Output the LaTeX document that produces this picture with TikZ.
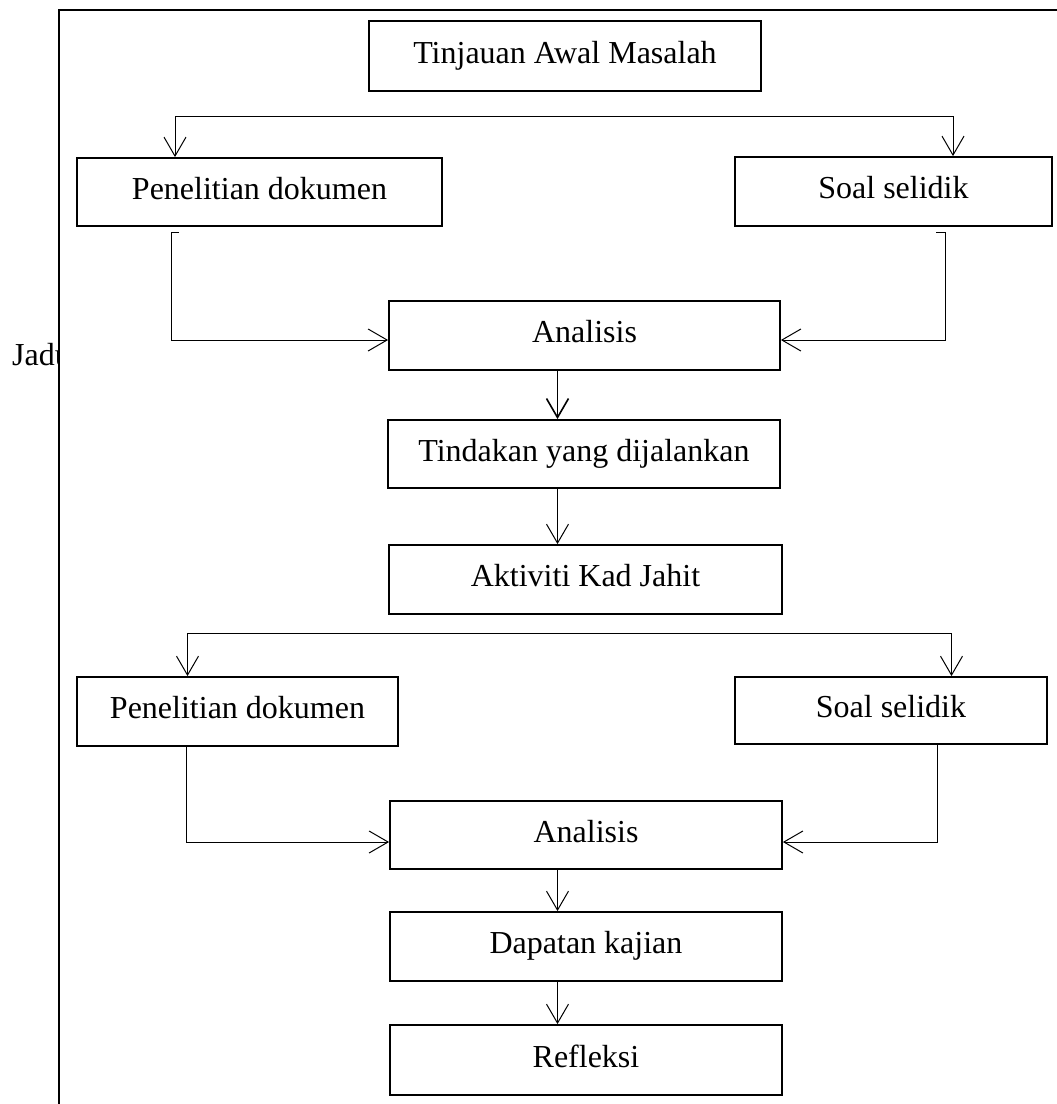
\documentclass[tikz,border=0pt]{standalone}
\usepackage{fontspec}
\setmainfont{Liberation Serif}
\usetikzlibrary{arrows.meta}
\begin{document}
\begin{tikzpicture}[x=1pt,y=-1pt,
  boxnode/.style={draw, line width=1.8pt, inner sep=0pt, text height=22pt, text depth=8pt,
    font=\fontsize{32}{38}\selectfont},
  conn/.style={line width=1pt},
  arr/.style={conn, -{Straight Barb[length=19pt,width=22pt,line width=1pt]}},
  arrthick/.style={line width=1.6pt, -{Straight Barb[length=19pt,width=22pt,line width=1.6pt]}},
  frameline/.style={line width=2pt}
]
\useasboundingbox (0,0) rectangle (1057,1104);
% label partly hidden by frame
\begin{scope}
\clip (0,0) rectangle (58,1104);
\node[anchor=base west, inner sep=0pt, font=\fontsize{32}{38}\selectfont] (jadu) at (12,365) {Jadual};
\end{scope}
\draw[frameline] (1057,10) -- (59,10) -- (59,1104);

% boxes
\node[boxnode, minimum width=392pt, minimum height=70pt] (top) at (565,56) {Tinjauan Awal Masalah};
\node[boxnode, minimum width=365pt, minimum height=68pt] (pd1) at (259.5,192) {Penelitian dokumen};
\node[boxnode, minimum width=317pt, minimum height=69pt] (ss1) at (893.5,191.5) {Soal selidik};
\node[boxnode, minimum width=391pt, minimum height=69pt] (an1) at (584.5,335.5) {Analisis};
\node[boxnode, minimum width=392pt, minimum height=68pt] (tin) at (584,454) {Tindakan yang dijalankan};
\node[boxnode, minimum width=393pt, minimum height=69pt] (akt) at (585.5,579.5) {Aktiviti Kad Jahit};
\node[boxnode, minimum width=321pt, minimum height=69pt] (pd2) at (237.5,711.5) {Penelitian dokumen};
\node[boxnode, minimum width=312pt, minimum height=67pt] (ss2) at (891,710.5) {Soal selidik};
\node[boxnode, minimum width=392pt, minimum height=68pt] (an2) at (586,835) {Analisis};
\node[boxnode, minimum width=392pt, minimum height=69pt] (dap) at (586,946.5) {Dapatan kajian};
\node[boxnode, minimum width=392pt, minimum height=70pt] (ref) at (586,1060) {Refleksi};

% helper coordinates
\coordinate (mid) at (557.5,0);
\coordinate (s1l) at (175,116);
\coordinate (s1r) at (953,116);
\coordinate (b1l) at (179,232);
\coordinate (v1l) at (171.5,232);
\coordinate (j1l) at (171.5,340);
\coordinate (b1r) at (936,232);
\coordinate (v1r) at (945.5,232);
\coordinate (j1r) at (945.5,340);
\coordinate (s2l) at (187.5,633);
\coordinate (s2r) at (951.5,633);
\coordinate (v2l) at (186,0);
\coordinate (j2l) at (186,842);
\coordinate (v2r) at (937,0);
\coordinate (j2r) at (937,842);

% first split
\draw[conn] (s1l) -- (s1r);
\draw[arr] (s1l) -- (s1l |- pd1.north);
\draw[arr] (s1r) -- (s1r |- ss1.north);
% into first analysis
\draw[arr] (b1l) -- (v1l) -- (j1l) -- (j1l -| an1.west);
\draw[arr] (b1r) -- (v1r) -- (j1r) -- (j1r -| an1.east);
% main chain
\draw[arrthick] (an1.south -| mid) -- (tin.north -| mid);
\draw[arr] (tin.south -| mid) -- (akt.north -| mid);
% second split
\draw[conn] (s2l) -- (s2r);
\draw[arr] (s2l) -- (s2l |- pd2.north);
\draw[arr] (s2r) -- (s2r |- ss2.north);
% into second analysis
\draw[arr] (pd2.south -| v2l) -- (j2l) -- (j2l -| an2.west);
\draw[arr] (ss2.south -| v2r) -- (j2r) -- (j2r -| an2.east);
% final chain
\draw[arr] (an2.south -| mid) -- (dap.north -| mid);
\draw[arr] (dap.south -| mid) -- (ref.north -| mid);
\end{tikzpicture}
\end{document}
